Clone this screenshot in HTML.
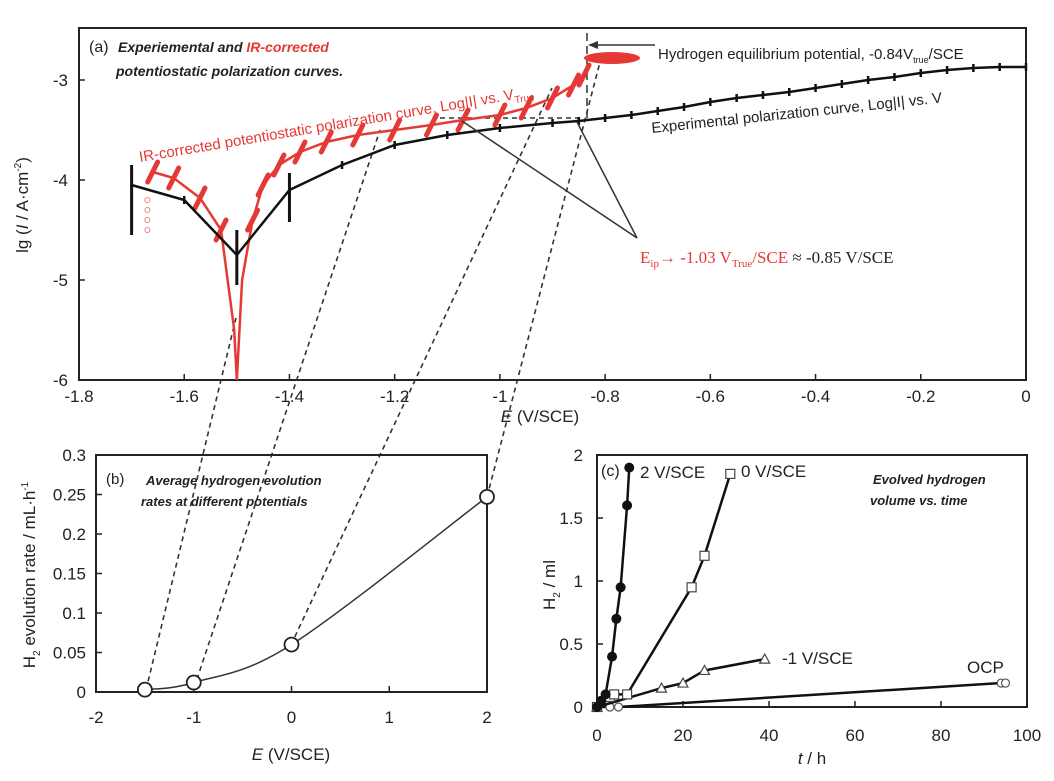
<!DOCTYPE html>
<html><head><meta charset="utf-8"><style>
body{margin:0;background:#fff}
svg{display:block;font-family:"Liberation Sans",sans-serif}
.it{font-style:italic;font-weight:bold}
</style></head><body>
<svg id="s" width="1054" height="781" viewBox="0 0 1054 781"></svg>
<script>
// ---- panel a data ----
const expE=[-1.7,-1.6,-1.5,-1.4,-1.3,-1.2,-1.1,-1.0,-0.9,-0.85,-0.8,-0.75,-0.7,-0.65,-0.6,-0.55,-0.5,-0.45,-0.4,-0.35,-0.3,-0.25,-0.2,-0.15,-0.1,-0.05,0];
const expI=[-4.05,-4.2,-4.75,-4.1,-3.85,-3.65,-3.55,-3.48,-3.43,-3.41,-3.38,-3.35,-3.31,-3.27,-3.22,-3.18,-3.15,-3.12,-3.08,-3.04,-3.0,-2.97,-2.93,-2.9,-2.88,-2.87,-2.87];
const irE=[-1.66,-1.62,-1.57,-1.53,-1.505,-1.5,-1.49,-1.47,-1.45,-1.42,-1.38,-1.33,-1.27,-1.2,-1.13,-1.07,-1.0,-0.95,-0.9,-0.86,-0.84];
const irI=[-3.92,-3.98,-4.18,-4.5,-5.5,-6,-5.0,-4.4,-4.05,-3.85,-3.72,-3.62,-3.55,-3.5,-3.45,-3.4,-3.35,-3.28,-3.18,-3.05,-2.95];
const aXTicks=[-1.8,-1.6,-1.4,-1.2,-1,-0.8,-0.6,-0.4,-0.2,0];
const aYTicks=[-3,-4,-5,-6];
// ---- panel b data ----
const bE=[-1.5,-1,0,2];
const bRate=[0.003,0.012,0.06,0.247];
const bXTicks=[-2,-1,0,1,2];
const bYTicks=[0,0.05,0.1,0.15,0.2,0.25,0.3];
// ---- panel c data ----
const c2T=[0,1,2,3.5,4.5,5.5,7,7.5], c2V=[0,0.05,0.1,0.4,0.7,0.95,1.6,1.9];
const c0T=[0,3,4,7,22,25,31], c0V=[0,0.08,0.1,0.1,0.95,1.2,1.85];
const cm1T=[0,15,20,25,39], cm1V=[0,0.15,0.19,0.29,0.38];
const cOT=[0,3,5,94,95], cOV=[0,0,0,0.19,0.19];
const cXTicks=[0,20,40,60,80,100];
const cYTicks=[0,0.5,1,1.5,2];

const S=document.getElementById('s');const NS='http://www.w3.org/2000/svg';
function el(t,a,p){const e=document.createElementNS(NS,t);for(const k in a)e.setAttribute(k,a[k]);(p||S).appendChild(e);return e;}
function txt(x,y,s,a){const e=el('text',Object.assign({x:x,y:y},a||{}));e.textContent=s;return e;}
const ax=v=>79+(v+1.8)/1.8*947, ay=v=>80+(-3-v)*100;
const bx=v=>96+(v+2)/4*391, by=v=>692-v/0.3*237;
const cx=v=>597+v/100*430, cy=v=>707-v/2*252;

// ===== panel a =====
let f=el('rect',{x:79,y:28,width:947,height:352,fill:'none',stroke:'#222','stroke-width':2});

aXTicks.forEach(v=>{el('line',{x1:ax(v),x2:ax(v),y1:380,y2:374,stroke:'#222','stroke-width':1.5});
 let t=txt(ax(v),402,String(v),{'text-anchor':'middle','font-size':17,fill:'#222'});});
aYTicks.forEach(v=>{el('line',{x1:79,x2:85,y1:ay(v),y2:ay(v),stroke:'#222','stroke-width':1.5});
 let t=txt(68,ay(v)+6,String(v),{'text-anchor':'end','font-size':17,fill:'#222'});});
let t=txt(0,0,'',{'font-size':17,fill:'#222',transform:'translate(28,205) rotate(-90)','text-anchor':'middle'});
t.innerHTML='lg (<tspan font-style="italic">I</tspan> / A·cm<tspan font-size="10" dy="-7">-2</tspan><tspan dy="7">)</tspan>';

t=txt(540,422,'',{'font-size':17,fill:'#222','text-anchor':'middle'});t.innerHTML='<tspan font-style="italic">E</tspan> (V/SCE)';


[[146,690,236,318],[194,688,380,130],[291,645,552,88],[487,497,600,62]].forEach(d=>{
 let l=el('line',{x1:d[0],y1:d[1],x2:d[2],y2:d[3],stroke:'#333','stroke-width':1.6,'stroke-dasharray':'5,4'});
 });
el('line',{x1:587,y1:33,x2:587,y2:118,stroke:'#333','stroke-width':1.5,'stroke-dasharray':'8,5'});
el('line',{x1:440,y1:118,x2:578,y2:118,stroke:'#333','stroke-width':1.5,'stroke-dasharray':'5,4'});

let rp=irE.map((e,i)=>ax(e)+','+ay(irI[i])).join(' ');
let rc=el('polyline',{points:rp,fill:'none',stroke:'#e53935','stroke-width':2.5});

irE.forEach((e,i)=>{if(irI[i]<-4.9)return;const x=ax(e),y=ay(irI[i]);
 let m=el('line',{x1:x-5,y1:y+10,x2:x+5,y2:y-10,stroke:'#e53935','stroke-width':5,'stroke-linecap':'round'});
 });
el('ellipse',{cx:612,cy:58,rx:28,ry:6,fill:'#e53935'});
[-4.2,-4.3,-4.4,-4.5].forEach(v=>el('circle',{cx:ax(-1.67),cy:ay(v),r:2.5,fill:'none',stroke:'#f08080','stroke-width':1}));
let bp=expE.map((e,i)=>ax(e)+','+ay(expI[i])).join(' ');
let bc=el('polyline',{points:bp,fill:'none',stroke:'#111','stroke-width':2.5});

expE.forEach((e,i)=>{const x=ax(e),y=ay(expI[i]);
 let m=el('line',{x1:x,y1:y-4,x2:x,y2:y+4,stroke:'#111','stroke-width':2.5});
 });
[[-1.7,-3.85,-4.55],[-1.5,-4.5,-5.05],[-1.4,-3.93,-4.42]].forEach(d=>el('line',{x1:ax(d[0]),x2:ax(d[0]),y1:ay(d[1]),y2:ay(d[2]),stroke:'#111','stroke-width':3}));
el('line',{x1:637,y1:238,x2:462,y2:121,stroke:'#333','stroke-width':1.5});
el('line',{x1:637,y1:238,x2:577,y2:122,stroke:'#333','stroke-width':1.5});
el('line',{x1:655,y1:45,x2:592,y2:45,stroke:'#333','stroke-width':1.5});
el('polygon',{points:'588,45 598,41 598,49',fill:'#333'});
t=txt(89,52,'(a)',{'font-size':16,fill:'#222'});
t=txt(118,52,'',{'font-size':14,'class':'it',fill:'#222'});t.innerHTML='Experiemental and <tspan fill="#e53935">IR-corrected</tspan>';
t=txt(116,76,'potentiostatic polarization curves.',{'font-size':14,'class':'it',fill:'#222'});
t=txt(0,0,'',{'font-size':15,fill:'#e53935',transform:'translate(140,162) rotate(-9.5)'});
t.innerHTML='IR-corrected potentiostatic polarization curve, Log|I| vs. V<tspan font-size="10" dy="4">True</tspan>';

t=txt(0,0,'Experimental polarization curve, Log|I| vs. V',{'font-size':15,fill:'#222',transform:'translate(652,133) rotate(-6)'});

t=txt(658,59,'',{'font-size':15,fill:'#222'});t.innerHTML='Hydrogen equilibrium potential, -0.84V<tspan font-size="9" dy="4">true</tspan><tspan dy="-4">/SCE</tspan>';

t=txt(640,263,'',{'font-size':17,fill:'#e53935','font-family':'Liberation Serif'});
t.innerHTML='E<tspan font-size="11" dy="4">ip</tspan><tspan dy="-4">→ -1.03 V</tspan><tspan font-size="11" dy="4">True</tspan><tspan dy="-4">/SCE </tspan><tspan fill="#222">≈ -0.85 V/SCE</tspan>';


// ===== panel b =====
f=el('rect',{x:96,y:455,width:391,height:237,fill:'none',stroke:'#222','stroke-width':2});

bXTicks.forEach(v=>{el('line',{x1:bx(v),x2:bx(v),y1:692,y2:686,stroke:'#222','stroke-width':1.5});
 let t=txt(bx(v),723,String(v),{'text-anchor':'middle','font-size':17,fill:'#222'});});
bYTicks.forEach(v=>{el('line',{x1:96,x2:102,y1:by(v),y2:by(v),stroke:'#222','stroke-width':1.5});
 let t=txt(86,by(v)+6,String(v),{'text-anchor':'end','font-size':17,fill:'#222'});});
t=txt(0,0,'',{'font-size':17,fill:'#222',transform:'translate(35,575) rotate(-90)','text-anchor':'middle'});
t.innerHTML='H<tspan font-size="10" dy="5">2</tspan><tspan dy="-5"> evolution rate / mL·h</tspan><tspan font-size="10" dy="-7">-1</tspan>';

t=txt(291,760,'',{'font-size':17,fill:'#222','text-anchor':'middle'});t.innerHTML='<tspan font-style="italic">E</tspan> (V/SCE)';

t=txt(106,484,'(b)',{'font-size':15,fill:'#222'});
txt(146,485,'Average hydrogen evolution',{'font-size':13,'class':'it',fill:'#222'});
txt(141,506,'rates at different potentials',{'font-size':13,'class':'it',fill:'#222'});
// smooth Catmull-Rom path
const P=bE.map((e,i)=>[bx(e),by(bRate[i])]);
let d='M'+P[0][0]+','+P[0][1];
for(let i=0;i<P.length-1;i++){const p0=P[Math.max(0,i-1)],p1=P[i],p2=P[i+1],p3=P[Math.min(P.length-1,i+2)];
 d+=' C'+(p1[0]+(p2[0]-p0[0])/6)+','+(p1[1]+(p2[1]-p0[1])/6)+' '+(p2[0]-(p3[0]-p1[0])/6)+','+(p2[1]-(p3[1]-p1[1])/6)+' '+p2[0]+','+p2[1];}
let bl=el('path',{d:d,fill:'none',stroke:'#333','stroke-width':1.5});

bE.forEach((e,i)=>{let c=el('circle',{cx:bx(e),cy:by(bRate[i]),r:7,fill:'#fff',stroke:'#222','stroke-width':1.8});
 });

// ===== panel c =====
f=el('rect',{x:597,y:455,width:430,height:252,fill:'none',stroke:'#222','stroke-width':2});

cXTicks.forEach(v=>{el('line',{x1:cx(v),x2:cx(v),y1:707,y2:701,stroke:'#222','stroke-width':1.5});
 let t=txt(cx(v),741,String(v),{'text-anchor':'middle','font-size':17,fill:'#222'});});
cYTicks.forEach(v=>{el('line',{x1:597,x2:603,y1:cy(v),y2:cy(v),stroke:'#222','stroke-width':1.5});
 let t=txt(583,cy(v)+6,String(v),{'text-anchor':'end','font-size':17,fill:'#222'});});
t=txt(0,0,'',{'font-size':17,fill:'#222',transform:'translate(555,585) rotate(-90)','text-anchor':'middle'});
t.innerHTML='H<tspan font-size="10" dy="5">2</tspan><tspan dy="-5"> / ml</tspan>';

t=txt(812,764,'',{'font-size':17,fill:'#222','text-anchor':'middle'});t.innerHTML='<tspan font-style="italic">t</tspan> / h';

txt(601,476,'(c)',{'font-size':16,fill:'#222'});
txt(640,478,'2 V/SCE',{'font-size':17,fill:'#222'});
txt(741,477,'0 V/SCE',{'font-size':17,fill:'#222'});
txt(782,664,'-1 V/SCE',{'font-size':17,fill:'#222'});
txt(967,673,'OCP',{'font-size':17,fill:'#222'});
txt(873,484,'Evolved hydrogen',{'font-size':13,'class':'it',fill:'#222'});
txt(870,505,'volume vs. time',{'font-size':13,'class':'it',fill:'#222'});
function series(T,V,name,mk){
 let l=el('polyline',{points:T.map((x,i)=>cx(x)+','+cy(V[i])).join(' '),fill:'none',stroke:'#111','stroke-width':2.5});
 
 T.forEach((x,i)=>{const X=cx(x),Y=cy(V[i]);let m;
  if(mk==='dot')m=el('circle',{cx:X,cy:Y,r:5,fill:'#111'});
  else if(mk==='sq')m=el('rect',{x:X-4.5,y:Y-4.5,width:9,height:9,fill:'#fff',stroke:'#444','stroke-width':1.2});
  else if(mk==='tri')m=el('polygon',{points:(X-5)+','+(Y+4)+' '+(X+5)+','+(Y+4)+' '+X+','+(Y-5),fill:'#fff',stroke:'#444','stroke-width':1.2});
  else m=el('circle',{cx:X,cy:Y,r:4,fill:'#fff',stroke:'#555','stroke-width':1.2});
  });
}
series(cOT,cOV,'ocp','circ');
series(cm1T,cm1V,'minus1v','tri');
series(c0T,c0V,'zero-v','sq');
series(c2T,c2V,'two-v','dot');
</script>
</body></html>
